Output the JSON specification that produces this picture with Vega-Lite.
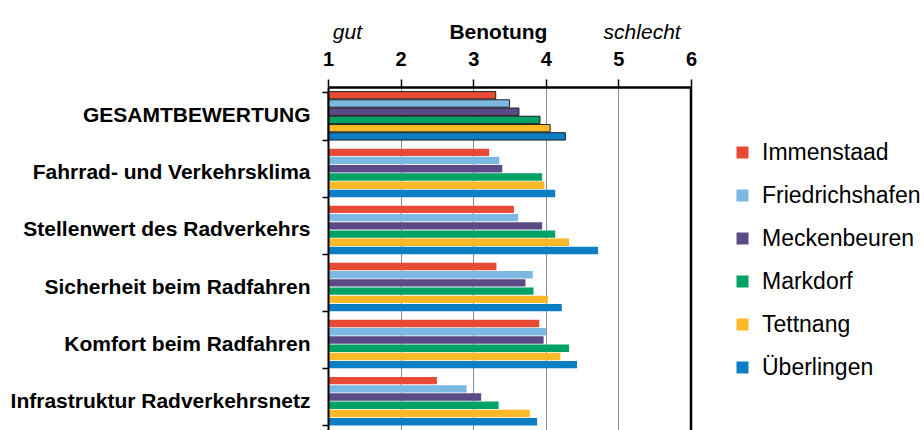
{
  "$schema": "https://vega.github.io/schema/vega-lite/v6.json",
  "width": 363,
  "height": 343,
  "autosize": {"type": "none"},
  "padding": {"left": 328, "top": 87, "right": 233, "bottom": 0},
  "background": "white",
  "config": {"font": "Liberation Sans", "view": {"stroke": null}},
  "layer": [
    {
      "data": {
        "values": [
          {"kategorie": "GESAMTBEWERTUNG", "ort": "Immenstaad", "note": 3.31},
          {"kategorie": "GESAMTBEWERTUNG", "ort": "Friedrichshafen", "note": 3.5},
          {"kategorie": "GESAMTBEWERTUNG", "ort": "Meckenbeuren", "note": 3.63},
          {"kategorie": "GESAMTBEWERTUNG", "ort": "Markdorf", "note": 3.92},
          {"kategorie": "GESAMTBEWERTUNG", "ort": "Tettnang", "note": 4.06},
          {"kategorie": "GESAMTBEWERTUNG", "ort": "Überlingen", "note": 4.27},
          {"kategorie": "Fahrrad- und Verkehrsklima", "ort": "Immenstaad", "note": 3.22},
          {"kategorie": "Fahrrad- und Verkehrsklima", "ort": "Friedrichshafen", "note": 3.36},
          {"kategorie": "Fahrrad- und Verkehrsklima", "ort": "Meckenbeuren", "note": 3.4},
          {"kategorie": "Fahrrad- und Verkehrsklima", "ort": "Markdorf", "note": 3.95},
          {"kategorie": "Fahrrad- und Verkehrsklima", "ort": "Tettnang", "note": 3.98},
          {"kategorie": "Fahrrad- und Verkehrsklima", "ort": "Überlingen", "note": 4.13},
          {"kategorie": "Stellenwert des Radverkehrs", "ort": "Immenstaad", "note": 3.56},
          {"kategorie": "Stellenwert des Radverkehrs", "ort": "Friedrichshafen", "note": 3.62},
          {"kategorie": "Stellenwert des Radverkehrs", "ort": "Meckenbeuren", "note": 3.95},
          {"kategorie": "Stellenwert des Radverkehrs", "ort": "Markdorf", "note": 4.13},
          {"kategorie": "Stellenwert des Radverkehrs", "ort": "Tettnang", "note": 4.32},
          {"kategorie": "Stellenwert des Radverkehrs", "ort": "Überlingen", "note": 4.72},
          {"kategorie": "Sicherheit beim Radfahren", "ort": "Immenstaad", "note": 3.32},
          {"kategorie": "Sicherheit beim Radfahren", "ort": "Friedrichshafen", "note": 3.82},
          {"kategorie": "Sicherheit beim Radfahren", "ort": "Meckenbeuren", "note": 3.72},
          {"kategorie": "Sicherheit beim Radfahren", "ort": "Markdorf", "note": 3.83},
          {"kategorie": "Sicherheit beim Radfahren", "ort": "Tettnang", "note": 4.03},
          {"kategorie": "Sicherheit beim Radfahren", "ort": "Überlingen", "note": 4.22},
          {"kategorie": "Komfort beim Radfahren", "ort": "Immenstaad", "note": 3.91},
          {"kategorie": "Komfort beim Radfahren", "ort": "Friedrichshafen", "note": 4.0},
          {"kategorie": "Komfort beim Radfahren", "ort": "Meckenbeuren", "note": 3.97},
          {"kategorie": "Komfort beim Radfahren", "ort": "Markdorf", "note": 4.32},
          {"kategorie": "Komfort beim Radfahren", "ort": "Tettnang", "note": 4.2},
          {"kategorie": "Komfort beim Radfahren", "ort": "Überlingen", "note": 4.43},
          {"kategorie": "Infrastruktur Radverkehrsnetz", "ort": "Immenstaad", "note": 2.5},
          {"kategorie": "Infrastruktur Radverkehrsnetz", "ort": "Friedrichshafen", "note": 2.91},
          {"kategorie": "Infrastruktur Radverkehrsnetz", "ort": "Meckenbeuren", "note": 3.11},
          {"kategorie": "Infrastruktur Radverkehrsnetz", "ort": "Markdorf", "note": 3.35},
          {"kategorie": "Infrastruktur Radverkehrsnetz", "ort": "Tettnang", "note": 3.78},
          {"kategorie": "Infrastruktur Radverkehrsnetz", "ort": "Überlingen", "note": 3.88}
        ]
      },
      "mark": {"type": "bar"},
      "encoding": {
        "y": {
          "field": "kategorie",
          "type": "nominal",
          "sort": ["GESAMTBEWERTUNG", "Fahrrad- und Verkehrsklima", "Stellenwert des Radverkehrs", "Sicherheit beim Radfahren", "Komfort beim Radfahren", "Infrastruktur Radverkehrsnetz"],
          "scale": {"paddingInner": 0.15, "paddingOuter": 0.08},
          "axis": {
            "title": null,
            "labelFontSize": 21,
            "labelFontWeight": "bold",
            "labelColor": "black",
            "labelPadding": 12,
            "labelLimit": 400,
            "domainColor": "black",
            "domainWidth": 2,
            "tickBand": "extent",
            "tickColor": "black",
            "tickWidth": 1.5,
            "tickSize": 6,
            "zindex": 1
          }
        },
        "yOffset": {
          "field": "ort",
          "type": "nominal",
          "sort": ["Immenstaad", "Friedrichshafen", "Meckenbeuren", "Markdorf", "Tettnang", "Überlingen"],
          "scale": {"paddingInner": 0.1}
        },
        "x": {
          "field": "note",
          "type": "quantitative",
          "scale": {"domain": [1, 6], "nice": false, "zero": false},
          "axis": {
            "orient": "top",
            "values": [1, 2, 3, 4, 5, 6],
            "format": "d",
            "title": null,
            "labelFontSize": 20,
            "labelFontWeight": "bold",
            "labelColor": "black",
            "labelFlush": false,
            "labelPadding": 10,
            "domainColor": "black",
            "domainWidth": 2.5,
            "tickColor": "black",
            "tickWidth": 1.5,
            "tickSize": 8,
            "grid": true,
            "gridColor": "#8a8a8a",
            "gridWidth": 1
          }
        },
        "x2": {"datum": 1},
        "color": {
          "field": "ort",
          "type": "nominal",
          "scale": {
            "domain": ["Immenstaad", "Friedrichshafen", "Meckenbeuren", "Markdorf", "Tettnang", "Überlingen"],
            "range": ["#e84b35", "#7bb9e2", "#5a4a85", "#00a365", "#fbb927", "#0b7ec4"]
          },
          "legend": {
            "orient": "none",
            "legendX": 403,
            "legendY": 54,
            "title": null,
            "symbolType": "square",
            "symbolSize": 144,
            "symbolStrokeWidth": 0,
            "labelFontSize": 23,
            "labelColor": "black",
            "labelOffset": 8,
            "labelLimit": 300,
            "rowPadding": 19
          }
        },
        "stroke": {
          "condition": {"test": "datum.kategorie === 'GESAMTBEWERTUNG'", "value": "#222222"},
          "value": "transparent"
        },
        "strokeWidth": {"value": 1}
      }
    },
    {
      "data": {"values": [{"grenze": 6}]},
      "mark": {"type": "rule", "color": "black", "strokeWidth": 2.5},
      "encoding": {
        "x": {
          "field": "grenze",
          "type": "quantitative",
          "scale": {"domain": [1, 6], "nice": false, "zero": false},
          "axis": {
            "orient": "top",
            "values": [1.26, 3.34, 5.32],
            "labelExpr": "datum.value < 2 ? 'gut' : (datum.value < 4 ? 'Benotung' : 'schlecht')",
            "labelFontStyle": {"condition": {"test": "datum.value < 2 || datum.value > 4", "value": "italic"}, "value": "normal"},
            "labelFontWeight": {"condition": {"test": "datum.value > 2 && datum.value < 4", "value": "bold"}, "value": "normal"},
            "labelFontSize": 21,
            "labelColor": "black",
            "labelFlush": false,
            "labelOverlap": false,
            "labelPadding": 0,
            "domain": false,
            "ticks": false,
            "grid": false,
            "offset": 45,
            "title": null
          }
        }
      }
    }
  ],
  "resolve": {"axis": {"x": "independent"}}
}
